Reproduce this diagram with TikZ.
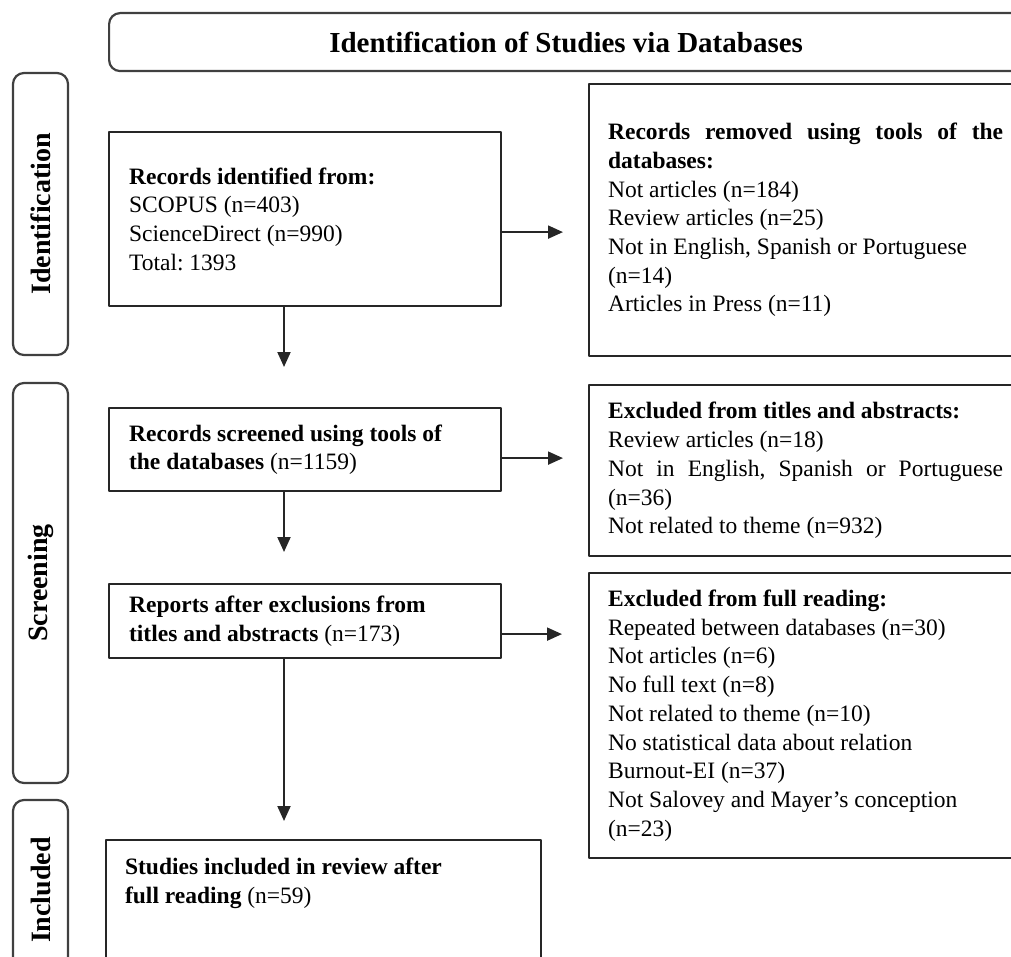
\documentclass[tikz,border=0pt]{standalone}
\usepackage{fontspec}
\setmainfont{Liberation Serif}
\usetikzlibrary{arrows.meta}
\newcommand{\boxfont}{\fontsize{23.5}{28.7}\selectfont\frenchspacing}
\newcommand{\fullline}[1]{\makebox[\hsize][s]{#1}}
\tikzset{
  stage/.style={draw=black!75,line width=2.2pt,rounded corners=11pt,minimum height=55pt,rotate=90,font=\fontsize{28}{32}\selectfont\bfseries},
  leftbox/.style={draw=black!85,line width=2.2pt,anchor=north west,align=flush left,inner xsep=20pt,text width=352pt,font=\boxfont},
  rightbox/.style={draw=black!85,line width=2.2pt,anchor=north west,align=flush left,inner xsep=19pt,text width=395pt,font=\boxfont},
  flow/.style={->,line width=2pt,black!85}
}
\begin{document}
\begin{tikzpicture}[line cap=round,line join=round,>={Triangle[length=15pt,width=13pt]},x=1pt,y=-1pt]
\useasboundingbox (0,0) rectangle (1011,957);
\clip (0,0) rectangle (1011,957);
\node[draw=black!75,line width=2.2pt,rounded corners=11pt,anchor=north west,minimum width=914pt,minimum height=58pt,font=\fontsize{29}{33}\selectfont\bfseries] (head) at (108,12) {Identification of Studies via Databases};
% stages
\node[stage,minimum width=282pt] (idstage) at (40.5,214) {Identification};
\node[stage,minimum width=400pt] (scrstage) at (40.5,583) {Screening};
\node[stage,minimum width=180pt] (incstage) at (40.5,890) {Included};
% boxes
\node[leftbox,minimum height=174pt] (ident) at (108,131) {\textbf{Records identified from:}\\SCOPUS (n=403)\\ScienceDirect (n=990)\\Total: 1393};
\node[rightbox,minimum height=272pt] (removed) at (588,83) {\textbf{\fullline{Records removed using tools of the}}\\\textbf{databases:}\\Not articles (n=184)\\Review articles (n=25)\\Not in English, Spanish or Portuguese\\(n=14)\\Articles in Press (n=11)};
\node[leftbox,minimum height=83pt] (screened) at (108,407) {\textbf{Records screened using tools of}\\\textbf{the databases} (n=1159)};
\node[rightbox,minimum height=171pt] (titles) at (588,384) {\textbf{Excluded from titles and abstracts:}\\Review articles (n=18)\\\fullline{Not in English, Spanish or Portuguese}\\(n=36)\\Not related to theme (n=932)};
\node[leftbox,minimum height=74pt] (reports) at (108,583) {\textbf{Reports after exclusions from}\\\textbf{titles and abstracts} (n=173)};
\node[rightbox,minimum height=285pt] (fullread) at (588,572) {\textbf{Excluded from full reading:}\\Repeated between databases (n=30)\\Not articles (n=6)\\No full text (n=8)\\Not related to theme (n=10)\\No statistical data about relation\\Burnout-EI (n=37)\\Not Salovey and Mayer's conception\\(n=23)};
\node[leftbox,inner xsep=19pt,inner ysep=18pt,text width=397pt,text depth=120pt] (studies) at (105,839) {\textbf{Studies included in review after}\\\textbf{full reading} (n=59)};
% arrows
\coordinate (spine) at (284,0);
\draw[flow,shorten >=25pt] ([yshift=-13pt]ident.east) -- ([yshift=-13pt]ident.east -| removed.west);
\draw[flow,shorten >=25pt] ([yshift=-8.5pt]screened.east) -- ([yshift=-8.5pt]screened.east -| titles.west);
\draw[flow,shorten >=26pt] ([yshift=-13pt]reports.east) -- ([yshift=-13pt]reports.east -| fullread.west);
\draw[flow,shorten >=40pt] (ident.south -| spine) -- (screened.north -| spine);
\draw[flow,shorten >=31pt] (screened.south -| spine) -- (reports.north -| spine);
\draw[flow,shorten >=18pt] (reports.south -| spine) -- (studies.north -| spine);
\end{tikzpicture}
\end{document}
